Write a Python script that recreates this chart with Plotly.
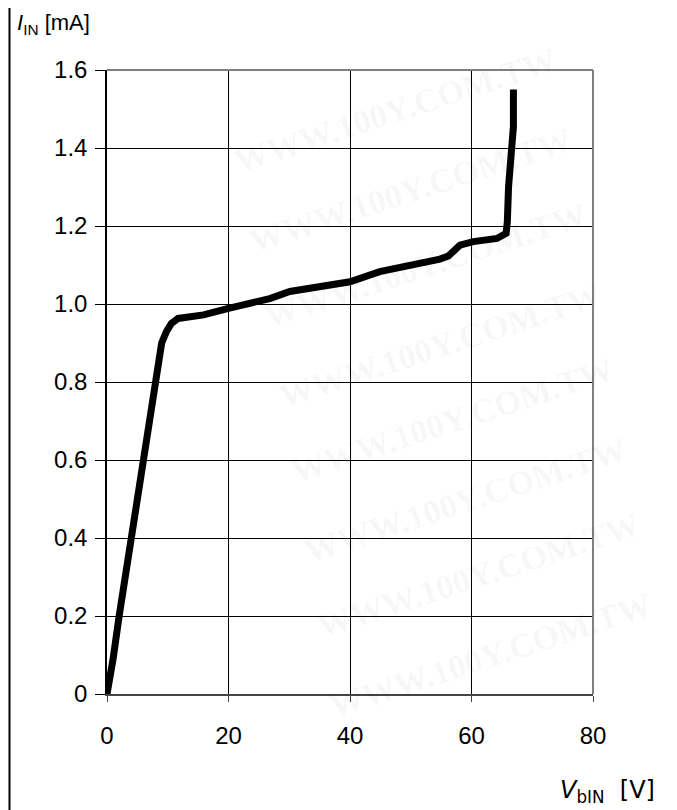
import plotly.graph_objects as go

# Data
v_bin = [0, 0.5, 1.0, 2.0, 3.0, 4.0, 5.0, 6.0, 6.5, 7.0, 7.5, 8.2, 8.6, 9.0, 9.8,
         10.6, 11.7, 13.1, 15.9, 20, 23.5, 26.8, 30.1, 35, 40, 44.9, 50, 54.8,
         56.2, 58.1, 60.3, 62.0, 64.2, 65.7, 65.9, 66.1, 66.3, 66.8, 66.9, 66.9]
i_in = [0, 0.04, 0.09, 0.2, 0.3, 0.4, 0.5, 0.6, 0.66, 0.7, 0.76, 0.81, 0.86, 0.9, 0.93,
        0.95, 0.963, 0.966, 0.972, 0.989, 1.003, 1.014, 1.032, 1.043, 1.057, 1.083, 1.098,
        1.115, 1.123, 1.151, 1.16, 1.163, 1.168, 1.181, 1.211, 1.301, 1.344, 1.403, 1.455, 1.55]

x_tickvals = [0, 20, 40, 60, 80]
x_ticktext = ["0", "20", "40", "60", "80"]
y_tickvals = [0, 0.2, 0.4, 0.6, 0.8, 1.0, 1.2, 1.4, 1.6]
y_ticktext = ["0", "0.2", "0.4", "0.6", "0.8", "1.0", "1.2", "1.4", "1.6"]

OFF = 8  # page body margin
W, H = 677 - OFF, 810 - OFF
L, T = 107 - OFF, 70 - OFF
pw, ph = 486, 624
R, B = W - L - pw, H - T - ph

def px(x):  # reference-pixel x -> paper
    return (x - OFF - L) / pw

def py(y):  # reference-pixel y -> paper
    return (T + ph - (y - OFF)) / ph

fig = go.Figure()
fig.add_trace(go.Scatter(x=v_bin, y=i_in, mode="lines",
                         line=dict(color="black", width=7), hoverinfo="skip",
                         showlegend=False))

tick_font = dict(family="Liberation Sans, Arial, sans-serif", size=24, color="black")

fig.update_layout(
    width=W, height=H,
    margin=dict(l=L, r=R, t=T, b=B, pad=0),
    paper_bgcolor="white", plot_bgcolor="white",
    showlegend=False,
    xaxis=dict(range=[0, 80], tickvals=x_tickvals, ticktext=x_ticktext,
               showgrid=True, gridcolor="black", gridwidth=1,
               showline=True, linecolor="#444444", linewidth=2,
               ticks="outside", ticklen=6, tickcolor="#444444", tickwidth=1,
               ticklabelstandoff=13, tickfont=tick_font, zeroline=False, fixedrange=True),
    yaxis=dict(range=[0, 1.6], tickvals=y_tickvals, ticktext=y_ticktext,
               showgrid=True, gridcolor="black", gridwidth=1,
               showline=True, linecolor="black", linewidth=1.5,
               ticks="outside", ticklen=10, tickcolor="black", tickwidth=1,
               ticklabelstandoff=3, tickfont=tick_font, zeroline=False, fixedrange=True),
)

# gray top and right border of plot area
fig.add_shape(type="line", xref="paper", yref="paper", x0=0, x1=1, y0=1, y1=1,
              line=dict(color="#808080", width=2))
fig.add_shape(type="line", xref="paper", yref="paper", x0=1, x1=1, y0=0, y1=1,
              line=dict(color="#808080", width=2))
# left frame line of the image (as far left as the figure allows)
fig.add_shape(type="line", xref="paper", yref="paper", x0=px(9.5), x1=px(9.5),
              y0=py(OFF), y1=py(H + OFF), line=dict(color="black", width=2))

# faint watermark
wm = "WWW.100Y.COM.TW"
wm_pos = [(395, 110), (410, 190), (425, 265), (440, 345), (452, 420),
          (465, 500), (478, 575), (490, 655)]
for (xx, yy) in wm_pos:
    fig.add_annotation(text="<b>" + wm + "</b>", xref="paper", yref="paper",
                       x=px(xx), y=py(yy),
                       showarrow=False, textangle=-18,
                       font=dict(family="Liberation Serif, Times New Roman, serif",
                                 size=34, color="rgba(0,0,0,0.045)"),
                       xanchor="center", yanchor="middle")

# axis titles
fig.add_annotation(text="<i>I</i><sub>IN</sub> [mA]", xref="paper", yref="paper",
                   x=px(15), y=py(24), xanchor="left", yanchor="middle", showarrow=False,
                   font=dict(family="Liberation Sans, Arial, sans-serif", size=22, color="black"))
fig.add_annotation(text="<i>V</i><sub>bIN</sub>  [V]", xref="paper", yref="paper",
                   x=px(657), y=py(791), xanchor="right", yanchor="middle", showarrow=False,
                   font=dict(family="DejaVu Sans, Verdana, sans-serif", size=24, color="black"))

fig.write_html("out.html")
